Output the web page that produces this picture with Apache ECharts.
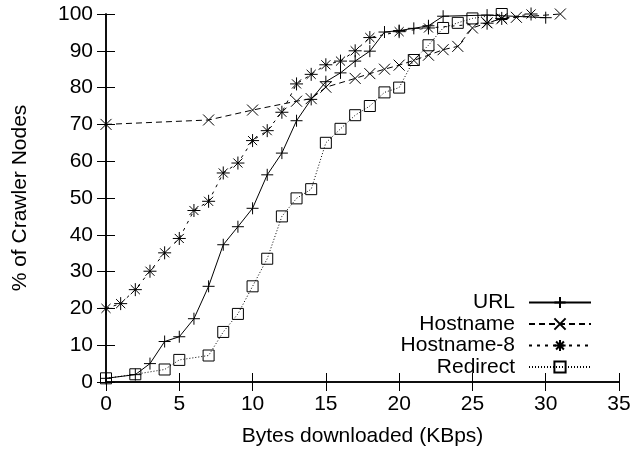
<!DOCTYPE html>
<html>
<head>
<meta charset="utf-8">
<script src="https://cdn.jsdelivr.net/npm/echarts@6/dist/echarts.min.js"></script>
<style>html,body{margin:0;padding:0;background:#fff}#c{width:634px;height:453px}</style>
</head>
<body>
<div id="c"></div>
<script>
// ---- data ----
var xTicks = [0, 5, 10, 15, 20, 25, 30, 35];
var yTicks = [0, 10, 20, 30, 40, 50, 60, 70, 80, 90, 100];
var seriesNames = ['URL', 'Hostname', 'Hostname-8', 'Redirect'];

var urlX = [0, 2, 3, 4, 5, 6, 7, 8, 9, 10, 11, 12, 13, 14, 15, 16, 17, 18, 19, 20, 21, 22, 23, 26, 30];
var urlY = [1, 2, 5, 11, 12.3, 17.2, 26, 37.3, 42.2, 47.2, 56.3, 62.2, 71, 76.8, 81.6, 84, 87.2, 89.9, 95.1, 95.5, 96.1, 96.8, 99.4, 99.7, 99];

var hostX = [0, 7, 10, 13, 14, 15, 17, 18, 19, 20, 21, 22, 23, 24, 25, 26, 27, 28, 31];
var hostY = [70, 71.2, 73.9, 76.3, 77, 80.1, 82.5, 83.8, 85, 86.1, 87.4, 88.8, 90.3, 91.2, 96.2, 97.6, 98.7, 99.1, 100];

var host8X = [0, 1, 2, 3, 4, 5, 6, 7, 8, 9, 10, 11, 12, 13, 14, 15, 16, 17, 18, 20, 22, 26, 27, 29];
var host8Y = [20, 21.3, 25.1, 30.1, 35.1, 39, 46.6, 49.1, 56.8, 59.5, 65.6, 68.3, 73.3, 81, 83.6, 86.2, 87.2, 90, 93.6, 95.2, 96.2, 97.5, 98.8, 100];

var redX = [0, 2, 4, 5, 7, 8, 9, 10, 11, 12, 13, 14, 15, 16, 17, 18, 19, 20, 21, 22, 23, 24, 25, 27];
var redY = [1, 2.1, 3.4, 6, 7.2, 13.6, 18.5, 26, 33.5, 45, 49.9, 52.4, 65, 68.8, 72.5, 75, 78.7, 80, 87.5, 91.5, 96.2, 97.6, 98.8, 100];

// ---- helpers ----
function pairs(xs, ys) { return xs.map(function (x, i) { return [x, ys[i]]; }); }
var FONT = 'Liberation Sans';
var FS = 21;
var SYM = {
  plus: 'path://M5,0L5,10M0,5L10,5',
  cross: 'path://M0,0L10,10M10,0L0,10',
  star: 'path://M5,0L5,10M0,5L10,5M1.5,1.5L8.5,8.5M8.5,1.5L1.5,8.5',
  square: 'path://M0,0L10,0L10,10L0,10Z'
};
function mkSeries(name, xs, ys, sym, size, dash) {
  return {
    name: name, type: 'line', data: pairs(xs, ys), clip: false,
    symbol: sym, symbolSize: size, showAllSymbol: true,
    itemStyle: { color: 'rgba(0,0,0,0)', borderColor: '#000', borderWidth: 1 },
    lineStyle: { color: '#000', width: 1, type: dash },
    emphasis: { disabled: true }, animation: false
  };
}

var tickStyle = { inside: true, length: 9, lineStyle: { color: '#000', width: 1 } };
var lineSt = { show: true, lineStyle: { color: '#000', width: 1.5 } };

var chart = echarts.init(document.getElementById('c'), null, { renderer: 'canvas' });
chart.setOption({
  animation: false,
  backgroundColor: '#fff',
  grid: { left: 106, right: 15, top: 14, bottom: 71 },
  xAxis: [{
    type: 'value', min: xTicks[0], max: xTicks[xTicks.length - 1], interval: 5,
    axisLine: lineSt, axisTick: tickStyle, splitLine: { show: false },
    axisLabel: { color: '#000', fontSize: FS, fontFamily: FONT, margin: 12 },
    name: 'Bytes downloaded (KBps)', nameLocation: 'middle', nameGap: 44,
    nameTextStyle: { color: '#000', fontSize: FS, fontFamily: FONT }
  }, {
    type: 'value', position: 'top', min: xTicks[0], max: xTicks[xTicks.length - 1], interval: 5,
    axisLine: lineSt, axisTick: tickStyle, splitLine: { show: false }, axisLabel: { show: false }
  }],
  yAxis: [{
    type: 'value', min: yTicks[0], max: yTicks[yTicks.length - 1], interval: 10,
    axisLine: lineSt, axisTick: tickStyle, splitLine: { show: false },
    axisLabel: { color: '#000', fontSize: FS, fontFamily: FONT, margin: 13 },
    name: '% of Crawler Nodes', nameLocation: 'middle', nameGap: 75,
    nameTextStyle: { color: '#000', fontSize: FS, fontFamily: FONT }
  }, {
    type: 'value', position: 'right', min: yTicks[0], max: yTicks[yTicks.length - 1], interval: 10,
    axisLine: lineSt, axisTick: tickStyle, splitLine: { show: false }, axisLabel: { show: false }
  }],
  legend: {
    orient: 'vertical', right: 37, top: 287, align: 'right',
    itemWidth: 62, itemHeight: 14, itemGap: 0.5,
    data: seriesNames,
    textStyle: { color: '#000', fontSize: FS, fontFamily: FONT, lineHeight: 20, padding: [0, 9, 0, 0] },
    selectedMode: false
  },
  series: [
    mkSeries(seriesNames[0], urlX, urlY, SYM.plus, 12, 'solid'),
    mkSeries(seriesNames[1], hostX, hostY, SYM.cross, 11, [6, 4]),
    mkSeries(seriesNames[2], host8X, host8Y, SYM.star, 13, [3, 5]),
    mkSeries(seriesNames[3], redX, redY, SYM.square, 11, [1, 2])
  ]
});
</script>
</body>
</html>
